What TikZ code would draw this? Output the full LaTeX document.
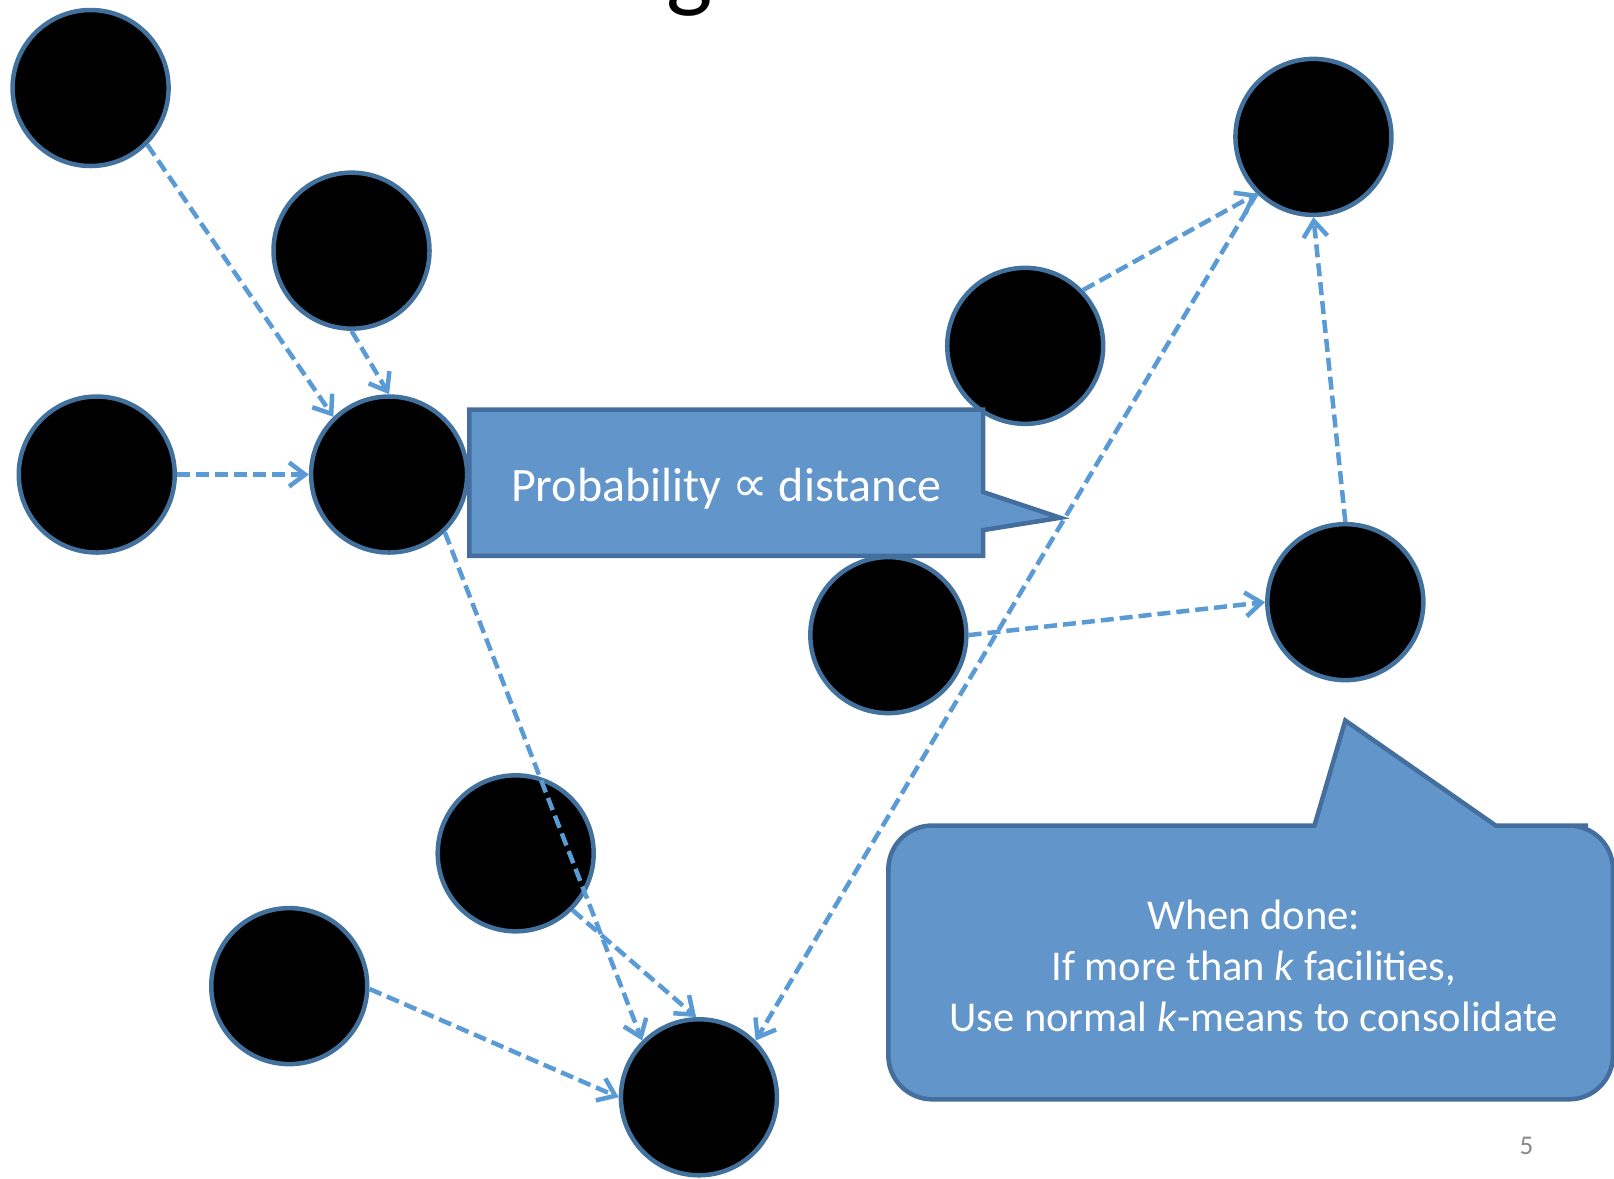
\documentclass[tikz,border=0pt]{standalone}
\usepackage{fontspec}
\setmainfont{Carlito}
\newfontfamily\symbolfont{DejaVu Sans}
\usetikzlibrary{arrows.meta}
\definecolor{linkblue}{RGB}{91,155,213}
\definecolor{rimblue}{RGB}{65,113,156}
\definecolor{boxfill}{RGB}{98,149,201}
\definecolor{boxrim}{RGB}{68,110,158}
\definecolor{pagegray}{RGB}{137,137,137}
\begin{document}
\begin{tikzpicture}[x=1.0293pt,y=-1.0293pt,
  site/.style={circle, fill=black, draw=rimblue, line width=4.5pt, minimum size=156pt, inner sep=0pt},
  link/.style={draw=linkblue, line width=4.5pt, dash pattern=on 13pt off 6pt,
    -{Straight Barb[length=16pt,width=24pt]}},
  callout/.style={fill=boxfill, draw=boxrim, line width=4.5pt, line join=miter},
  boxtext/.style={text=white, font=\fontsize{42.5}{51}\selectfont, align=center}]
\useasboundingbox (0,0) rectangle (1568,1145.4);

% slide title (only its descender shows)
\node[font=\fontsize{98}{110}\selectfont, anchor=base] (title) at (670,0) {g};

% facilities
\node[site] (A) at (88,85.5) {};
\node[site] (B) at (341.5,243.5) {};
\node[site] (C) at (94,461) {};
\node[site] (D) at (378,461) {};
\node[site] (E) at (996,336) {};
\node[site] (F) at (1276,133) {};
\node[site] (G) at (863,617) {};
\node[site] (H) at (1307,585) {};
\node[site] (I) at (501,829) {};
\node[site] (J) at (281,958) {};
\node[site] (K) at (679,1066) {};

% assignments
\draw[link] (A.-45) -- (D.134);
\draw[link] (B.-90) -- (D.90);
\draw[link] (C.0) -- (D.180);
\draw[link] (D.-46) -- (K.135);
\draw[link] (I.-45) -- (K.92);
\draw[link] (J.-2) -- (K.180);
\draw[link] (F.225) -- (K.45);
\draw[link] (E.44) -- (F.225);
\draw[link] (G.0) -- (H.180);
\draw[link] (H.90) -- (F.270);

% callout: probability
\draw[callout] (456,398) -- (955,398) -- (955,478) -- (1030,503) -- (955,515)
  -- (955,540) -- (456,540) -- cycle;
\node[boxtext, font=\fontsize{48}{56}\selectfont] (prob) at (705.5,475)
  {Probability {\symbolfont\fontsize{50}{56}\selectfont ∝} distance};

% callout: consolidation
\draw[callout] (1307,700) -- (1277,802) -- (1100,802) [rounded corners=44pt]
  -- (863,802) -- (863,1068) -- (1567,1068) -- (1567,802) -- (1500,802)
  [sharp corners] -- (1453,802) -- cycle;
\node[boxtext] (done) at (1218,938)
  {When done:\\If more than \textit{k} facilities,\\Use normal \textit{k}-means to consolidate};

% page number
\node[text=pagegray, font=\fontsize{27}{30}\selectfont] (pageno) at (1483,1113) {5};
\end{tikzpicture}
\end{document}
